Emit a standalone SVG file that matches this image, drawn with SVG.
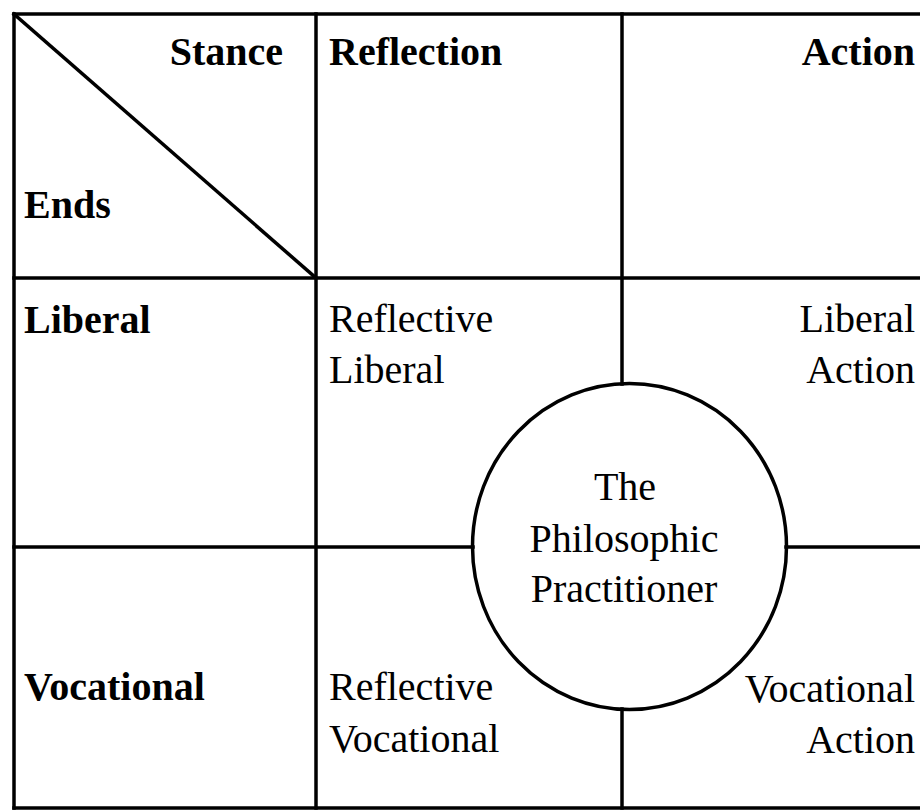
<svg xmlns="http://www.w3.org/2000/svg" width="920" height="810" viewBox="0 0 920 810">
<style>
.ln{stroke:#000;stroke-width:3.5;fill:none;stroke-linecap:square}
.b{font-family:"Liberation Serif","Times New Roman",serif;font-weight:bold;font-size:40px;fill:#000}
.r{font-family:"Liberation Serif","Times New Roman",serif;font-size:40px;fill:#000}
.e{text-anchor:end}
.m{text-anchor:middle}
</style>
<rect width="920" height="810" fill="#fff"/>
<g id="grid">
<line class="ln" x1="14" y1="14" x2="920" y2="14"/>
<line class="ln" x1="14" y1="14" x2="14" y2="808"/>
<line class="ln" x1="14" y1="808" x2="920" y2="808"/>
<line class="ln" x1="316" y1="14" x2="316" y2="808"/>
<line class="ln" x1="14" y1="278" x2="920" y2="278"/>
<line class="ln" x1="14" y1="14" x2="316" y2="278"/>
</g>
<g id="connectors">
<line class="ln" x1="622" y1="14" x2="622" y2="384"/>
<line class="ln" x1="622" y1="709" x2="622" y2="808"/>
<line class="ln" x1="14" y1="547" x2="473" y2="547"/>
<line class="ln" x1="786" y1="547" x2="920" y2="547"/>
</g>
<g id="header">
<text class="b e" x="283" y="65">Stance</text>
<text class="b" x="24" y="218">Ends</text>
<text class="b" x="329" y="65">Reflection</text>
<text class="b e" x="915" y="65">Action</text>
</g>
<g id="row-liberal">
<text class="b" x="24" y="333">Liberal</text>
<text class="r" x="329" y="332">Reflective</text>
<text class="r" x="329" y="383">Liberal</text>
<text class="r e" x="915" y="332">Liberal</text>
<text class="r e" x="915" y="383">Action</text>
</g>
<g id="row-vocational">
<text class="b" x="24" y="700">Vocational</text>
<text class="r" x="329" y="700">Reflective</text>
<text class="r" x="329" y="752">Vocational</text>
<text class="r e" x="915" y="702">Vocational</text>
<text class="r e" x="915" y="753">Action</text>
</g>
<g id="philosophic-practitioner">
<ellipse class="ln" cx="629.5" cy="546.5" rx="157" ry="163"/>
<text class="r m" x="625" y="500">The</text>
<text class="r m" x="624" y="552">Philosophic</text>
<text class="r m" x="624" y="602">Practitioner</text>
</g>
</svg>
